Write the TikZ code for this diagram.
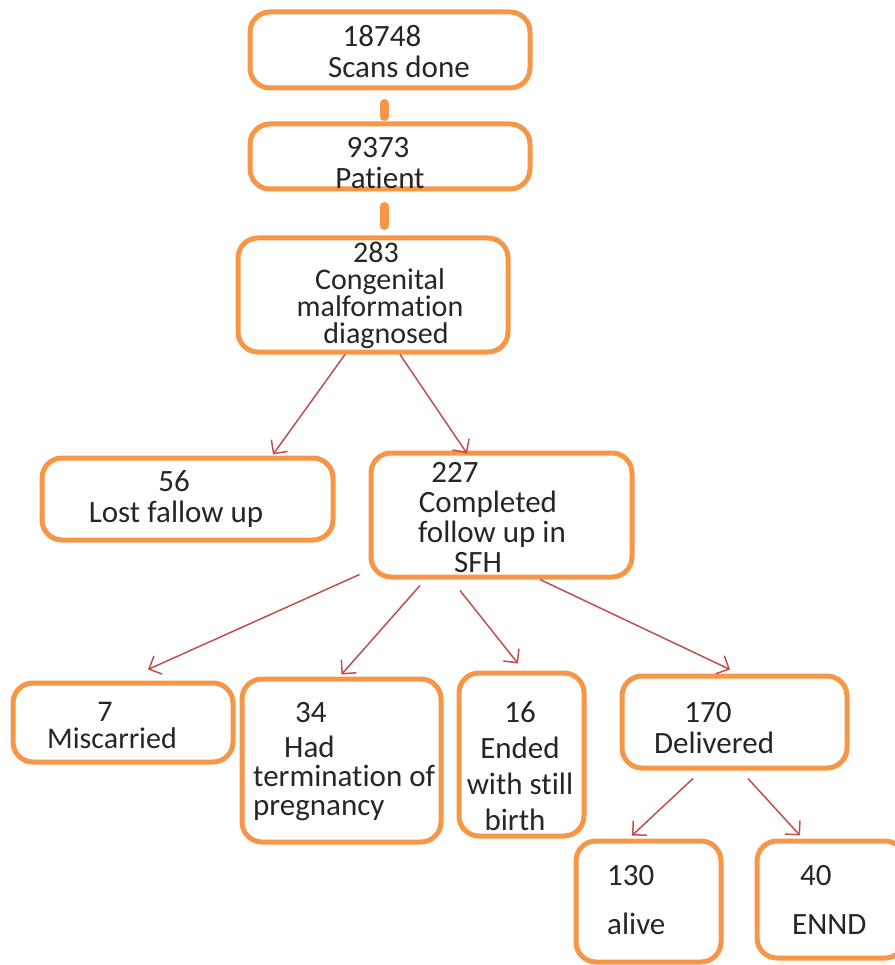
\documentclass[tikz,border=0pt]{standalone}
\usepackage{fontspec}
\setmainfont{Carlito}[Ligatures=NoCommon]
\usetikzlibrary{arrows.meta}
\definecolor{boxorange}{RGB}{247,150,70}
\definecolor{arrowred}{RGB}{192,80,77}
\tikzset{
  box/.style={draw=boxorange, line width=5pt, rounded corners=20pt, fill=white, inner sep=0pt},
  txt/.style={inner sep=0pt, font=\fontsize{31}{31}\selectfont, text=black!85},
  thickconn/.style={draw=boxorange, line width=9pt, line cap=round},
  redarrow/.style={draw=arrowred, line width=1.5pt, -{Straight Barb[length=10pt,width=20pt,line width=1.5pt]}}
}
\begin{document}
\begin{tikzpicture}[x=1pt,y=-1pt]
\useasboundingbox (0,0) rectangle (894,965);
% boxes
\node[box, minimum width=280pt, minimum height=76pt] (b1) at (390,50) {};
\node[box, minimum width=280pt, minimum height=65pt] (b2) at (390,156.5) {};
\node[box, minimum width=270pt, minimum height=114pt] (b3) at (373,295) {};
\node[box, minimum width=291pt, minimum height=82pt] (b4) at (187.5,499) {};
\node[box, minimum width=261pt, minimum height=124pt] (b5) at (501.5,515) {};
\node[box, minimum width=220pt, minimum height=79pt] (b6) at (123,722.5) {};
\node[box, minimum width=199pt, minimum height=163pt] (b7) at (341.5,760.5) {};
\node[box, minimum width=125pt, minimum height=163pt] (b8) at (521.5,754.5) {};
\node[box, minimum width=225pt, minimum height=92pt] (b9) at (734.5,722) {};
\node[box, minimum width=145pt, minimum height=121pt] (b10) at (648.5,901.5) {};
\node[box, minimum width=148pt, minimum height=117pt] (b11) at (831,899.5) {};
% texts
\node[txt, align=center] (t1) at (391,52) {18748\hspace*{18pt}\\\hspace*{16pt}Scans done};
\node[txt, align=center] (t2) at (380,163) {9373\hspace*{4pt}\\Patient};
\node[txt, align=center, font=\fontsize{30}{27}\selectfont] (t3) at (380,295) {283\hspace*{8pt}\\Congenital\hspace*{16pt}\\malformation\\\hspace*{12pt}diagnosed};
\node[txt, align=center] (t4) at (176,499) {56\hspace*{4pt}\\Lost fallow up};
\node[txt, align=center, font=\fontsize{31}{30}\selectfont] (t5) at (488,518) {227\hspace*{66pt}\\Completed\\\hspace*{8pt}follow up in\\SFH\hspace*{20pt}};
\node[txt, align=center, font=\fontsize{30}{27}\selectfont] (t6) at (112,725) {7\hspace*{14pt}\\Miscarried};
\node[txt, align=left, anchor=west, font=\fontsize{31}{29}\selectfont] (t7) at (253,762) {\hspace*{42pt}34\\[6pt]\hspace*{31pt}Had\\termination of\\pregnancy};
\node[txt, align=center, font=\fontsize{31}{36}\selectfont] (t8) at (520,766) {16\\Ended\\with still\\\hspace*{0pt}birth\hspace*{10pt}};
\node[txt, align=center] (t9) at (714,728) {170\hspace*{12pt}\\Delivered};
\node[txt, align=left, anchor=west, font=\fontsize{31}{49}\selectfont] (t10) at (607,900) {130\\alive};
\node[txt, align=left, anchor=west, font=\fontsize{31}{49}\selectfont] (t11) at (792,900) {\hspace*{8pt}40\\ENND};
% thick connectors
\draw[thickconn] ([xshift=-6pt,yshift=-13pt]b1.south) -- ([xshift=-6pt,yshift=5pt]b2.north);
\draw[thickconn] ([xshift=-6pt,yshift=-15pt]b2.south) -- ([xshift=11pt,yshift=10pt]b3.north);
% red arrows
\draw[redarrow] ([xshift=-28pt]b3.south) -- ([xshift=85.5pt,yshift=1pt]b4.north);
\draw[redarrow] ([xshift=27pt]b3.south) -- ([xshift=-34.5pt,yshift=-3pt]b5.north);
\draw[redarrow] ([xshift=-9pt,yshift=5pt]b5.south west) -- ([xshift=25pt,yshift=11pt]b6.north);
\draw[redarrow] ([xshift=-81.5pt,yshift=-6pt]b5.south) -- ([yshift=2pt]b7.north);
\draw[redarrow] ([xshift=-41.5pt,yshift=-11pt]b5.south) -- ([xshift=-3.5pt,yshift=7pt]b8.north);
\draw[redarrow] ([xshift=38.5pt]b5.south) -- ([xshift=-4.5pt,yshift=4pt]b9.north);
\draw[redarrow] ([xshift=-41.5pt,yshift=-8pt]b9.south) -- ([xshift=-16.5pt,yshift=3pt]b10.north);
\draw[redarrow] ([xshift=13.5pt,yshift=-8pt]b9.south) -- ([xshift=-31pt,yshift=3pt]b11.north);
\end{tikzpicture}
\end{document}
